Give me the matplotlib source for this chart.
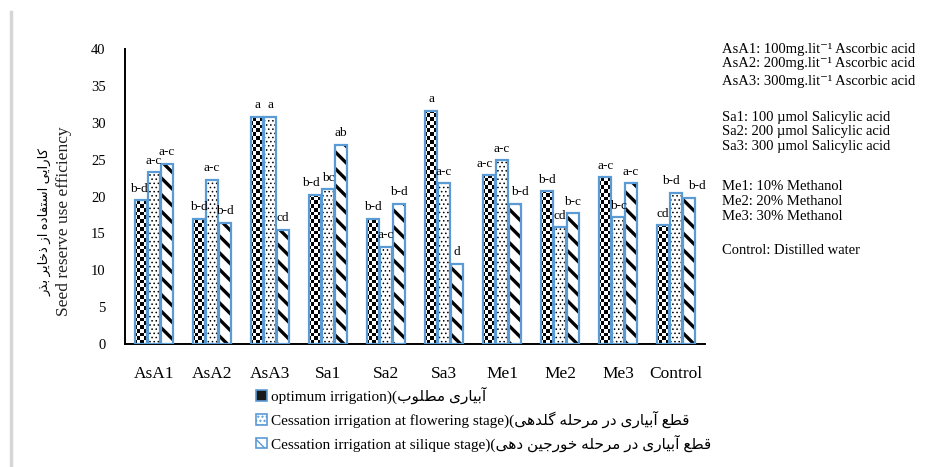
import numpy as np
import matplotlib
matplotlib.use("Agg")
import matplotlib.pyplot as plt
from matplotlib.patches import Patch
from matplotlib.path import Path
from matplotlib.lines import Line2D

# ---- data ----
categories = ["AsA1", "AsA2", "AsA3", "Sa1", "Sa2", "Sa3", "Me1", "Me2", "Me3", "Control"]
optimum = [19.5, 17.0, 30.8, 20.2, 17.0, 31.6, 22.9, 20.7, 22.6, 16.1]
flowering = [23.3, 22.3, 30.8, 21.0, 13.2, 21.8, 24.9, 15.8, 17.2, 20.5]
silique = [24.4, 16.4, 15.5, 27.0, 19.0, 10.9, 19.0, 17.7, 21.8, 19.8]
optimum_letters = ["b-d", "b-d", "a", "b-d", "b-d", "a", "a-c", "b-d", "a-c", "cd"]
flowering_letters = ["a-c", "a-c", "a", "bc", "a-c", "a-c", "a-c", "cd", "b-c", "b-d"]
silique_letters = ["a-c", "b-d", "cd", "ab", "b-d", "d", "b-d", "b-c", "a-c", "b-d"]
yticks = [0, 5, 10, 15, 20, 25, 30, 35, 40]

ylabel_fa = "کارایی استفاده از ذخایر بذر"
ylabel_en = "Seed reserve use efficiency"
legend_en = ["optimum irrigation", "Cessation irrigation at flowering stage",
             "Cessation irrigation at silique stage"]
legend_fa = ["آبیاری مطلوب", "قطع آبیاری در مرحله گلدهی", "قطع آبیاری در مرحله خورجین دهی"]
notes = [
    "AsA1: 100mg.lit⁻¹ Ascorbic acid",
    "AsA2: 200mg.lit⁻¹ Ascorbic acid",
    "AsA3: 300mg.lit⁻¹ Ascorbic acid",
    "Sa1: 100 µmol Salicylic acid",
    "Sa2: 200 µmol Salicylic acid",
    "Sa3: 300 µmol Salicylic acid",
    "Me1: 10% Methanol",
    "Me2: 20% Methanol",
    "Me3: 30% Methanol",
    "Control: Distilled water",
]

# ---- minimal Persian shaping (presentation forms, visual order) ----
FORMS = {
    "ا": ("\uFE8D", "\uFE8E", None, None),
    "آ": ("\uFE81", "\uFE82", None, None),
    "ب": ("\uFE8F", "\uFE90", "\uFE91", "\uFE92"),
    "ت": ("\uFE95", "\uFE96", "\uFE97", "\uFE98"),
    "ج": ("\uFE9D", "\uFE9E", "\uFE9F", "\uFEA0"),
    "ح": ("\uFEA1", "\uFEA2", "\uFEA3", "\uFEA4"),
    "خ": ("\uFEA5", "\uFEA6", "\uFEA7", "\uFEA8"),
    "د": ("\uFEA9", "\uFEAA", None, None),
    "ذ": ("\uFEAB", "\uFEAC", None, None),
    "ر": ("\uFEAD", "\uFEAE", None, None),
    "ز": ("\uFEAF", "\uFEB0", None, None),
    "س": ("\uFEB1", "\uFEB2", "\uFEB3", "\uFEB4"),
    "ط": ("\uFEC1", "\uFEC2", "\uFEC3", "\uFEC4"),
    "ع": ("\uFEC9", "\uFECA", "\uFECB", "\uFECC"),
    "ف": ("\uFED1", "\uFED2", "\uFED3", "\uFED4"),
    "ق": ("\uFED5", "\uFED6", "\uFED7", "\uFED8"),
    "ل": ("\uFEDD", "\uFEDE", "\uFEDF", "\uFEE0"),
    "م": ("\uFEE1", "\uFEE2", "\uFEE3", "\uFEE4"),
    "ن": ("\uFEE5", "\uFEE6", "\uFEE7", "\uFEE8"),
    "ه": ("\uFEE9", "\uFEEA", "\uFEEB", "\uFEEC"),
    "و": ("\uFEED", "\uFEEE", None, None),
    "ی": ("\uFBFC", "\uFBFD", "\uFBFE", "\uFBFF"),
    "ک": ("\uFB8E", "\uFB8F", "\uFB90", "\uFB91"),
    "گ": ("\uFB92", "\uFB93", "\uFB94", "\uFB95"),
}


def shape_fa(s):
    out = []
    for i, c in enumerate(s):
        if c not in FORMS:
            out.append(c)
            continue
        prev = s[i - 1] if i > 0 else ""
        nxt = s[i + 1] if i + 1 < len(s) else ""
        join_prev = prev in FORMS and FORMS[prev][2] is not None
        join_next = FORMS[c][2] is not None and nxt in FORMS
        iso, fin, ini, med = FORMS[c]
        if join_prev and join_next:
            out.append(med)
        elif join_prev:
            out.append(fin)
        elif join_next:
            out.append(ini)
        else:
            out.append(iso)
    return "".join(out)[::-1]


SERIF = ["Liberation Serif", "DejaVu Sans"]
EDGE = "#5b9bd5"

fig = plt.figure(figsize=(9.25, 4.67), dpi=100)
W, H = 925, 467
ax = fig.add_axes([125 / W, 1 - 344 / H, 580 / W, 295 / H])

x = np.arange(len(categories))
width = 0.2
step = 0.22


def draw_series(vals, off, hatch, hlw):
    fill = ax.bar(x + off, vals, width, color="white", edgecolor="black",
                  linewidth=0, hatch=hatch, zorder=2)
    for b in fill:
        if hasattr(b, "set_hatch_linewidth"):
            b.set_hatch_linewidth(hlw)
    ax.bar(x + off, vals, width, fill=False, edgecolor=EDGE, linewidth=1.6, zorder=4)
    return fill


with plt.rc_context({"hatch.linewidth": 1.0}):
    opt_bars = draw_series(optimum, -step, None, 1.0)
with plt.rc_context({"hatch.linewidth": 0.6}):
    flw_bars = draw_series(flowering, 0.0, "....", 0.6)
with plt.rc_context({"hatch.linewidth": 2.4}):
    sil_bars = draw_series(silique, step, "\\\\", 2.4)

# checkerboard texture for the optimum-irrigation bars
ii, jj = np.indices((78, 150))
checker = ((ii + jj) % 2).astype(float)
img = ax.imshow(checker, cmap="gray", extent=(-0.5, 9.5, 0, 40), aspect="auto",
                interpolation="nearest", origin="lower", zorder=3)
clip = Path.make_compound_path(
    *[b.get_path().transformed(b.get_patch_transform()) for b in opt_bars])
img.set_clip_path(clip, ax.transData)

# significance letters (small horizontal nudges where neighbours crowd)
nudges = {(9, 1): -4, (9, 2): 6, (6, 0): -3, (6, 2): 4, (3, 0): -3, (0, 0): -2}
for k, (vals, letters, off) in enumerate(((optimum, optimum_letters, -step),
                                          (flowering, flowering_letters, 0.0),
                                          (silique, silique_letters, step))):
    for xi, v, t in zip(x, vals, letters):
        dx = nudges.get((xi, k), 0)
        ax.annotate(t, (xi + off, v), xytext=(dx, 4), textcoords="offset points",
                    ha="center", va="bottom", fontsize=9.5, family=SERIF, zorder=5)

ax.set_xlim(-0.5, 9.5)
ax.set_ylim(0, 40)
ax.set_yticks(yticks)
ax.set_yticklabels([str(t) for t in yticks], family=SERIF, fontsize=10.5)
ax.set_xticks(x)
ax.set_xticklabels(categories, family=SERIF, fontsize=12.5)
ax.tick_params(axis="y", length=0, pad=14)
ax.tick_params(axis="x", length=0, pad=16)
for s in ("top", "right"):
    ax.spines[s].set_visible(False)
for s in ("left", "bottom"):
    ax.spines[s].set_linewidth(1.4)
    ax.spines[s].set_color("black")

# axis title, two lines
fig.text(45 / W, 1 - 222 / H, shape_fa(ylabel_fa), rotation=90, ha="center",
         va="center", fontsize=9.5, family=SERIF)
fig.text(64 / W, 1 - 221 / H, ylabel_en, rotation=90, ha="center", va="center",
         fontsize=12.5, family=SERIF, color="#222222")

# legend
handles = [
    Patch(facecolor="#1a1a1a", edgecolor=EDGE, linewidth=1.2),
    Patch(facecolor="white", edgecolor=EDGE, linewidth=1.2, hatch="...."),
    Patch(facecolor="white", edgecolor=EDGE, linewidth=1.2, hatch="\\\\"),
]
labels = [en + ")(" + shape_fa(fa) for en, fa in zip(legend_en, legend_fa)]
leg = fig.legend(handles, labels, loc="upper left", bbox_to_anchor=(256 / W, 1 - 387 / H),
                 frameon=False, prop={"family": SERIF, "size": 11},
                 handlelength=0.7, handleheight=0.7, handletextpad=0.3,
                 labelspacing=0.42, borderpad=0, borderaxespad=0)

# treatment descriptions
note_y = [50, 64, 82, 117, 132, 147, 187, 202, 217, 250]
for t, yy in zip(notes, note_y):
    fig.text(722 / W, 1 - yy / H, t, ha="left", va="center", fontsize=10.5,
             family=["Liberation Serif", "DejaVu Serif"])

# frame edge on the left
fig.add_artist(Line2D([10.5 / W, 10.5 / W], [0, 1 - 12 / H], transform=fig.transFigure,
                      color="#d6d6d6", lw=2.5))

fig.savefig("out.png", dpi=100)
